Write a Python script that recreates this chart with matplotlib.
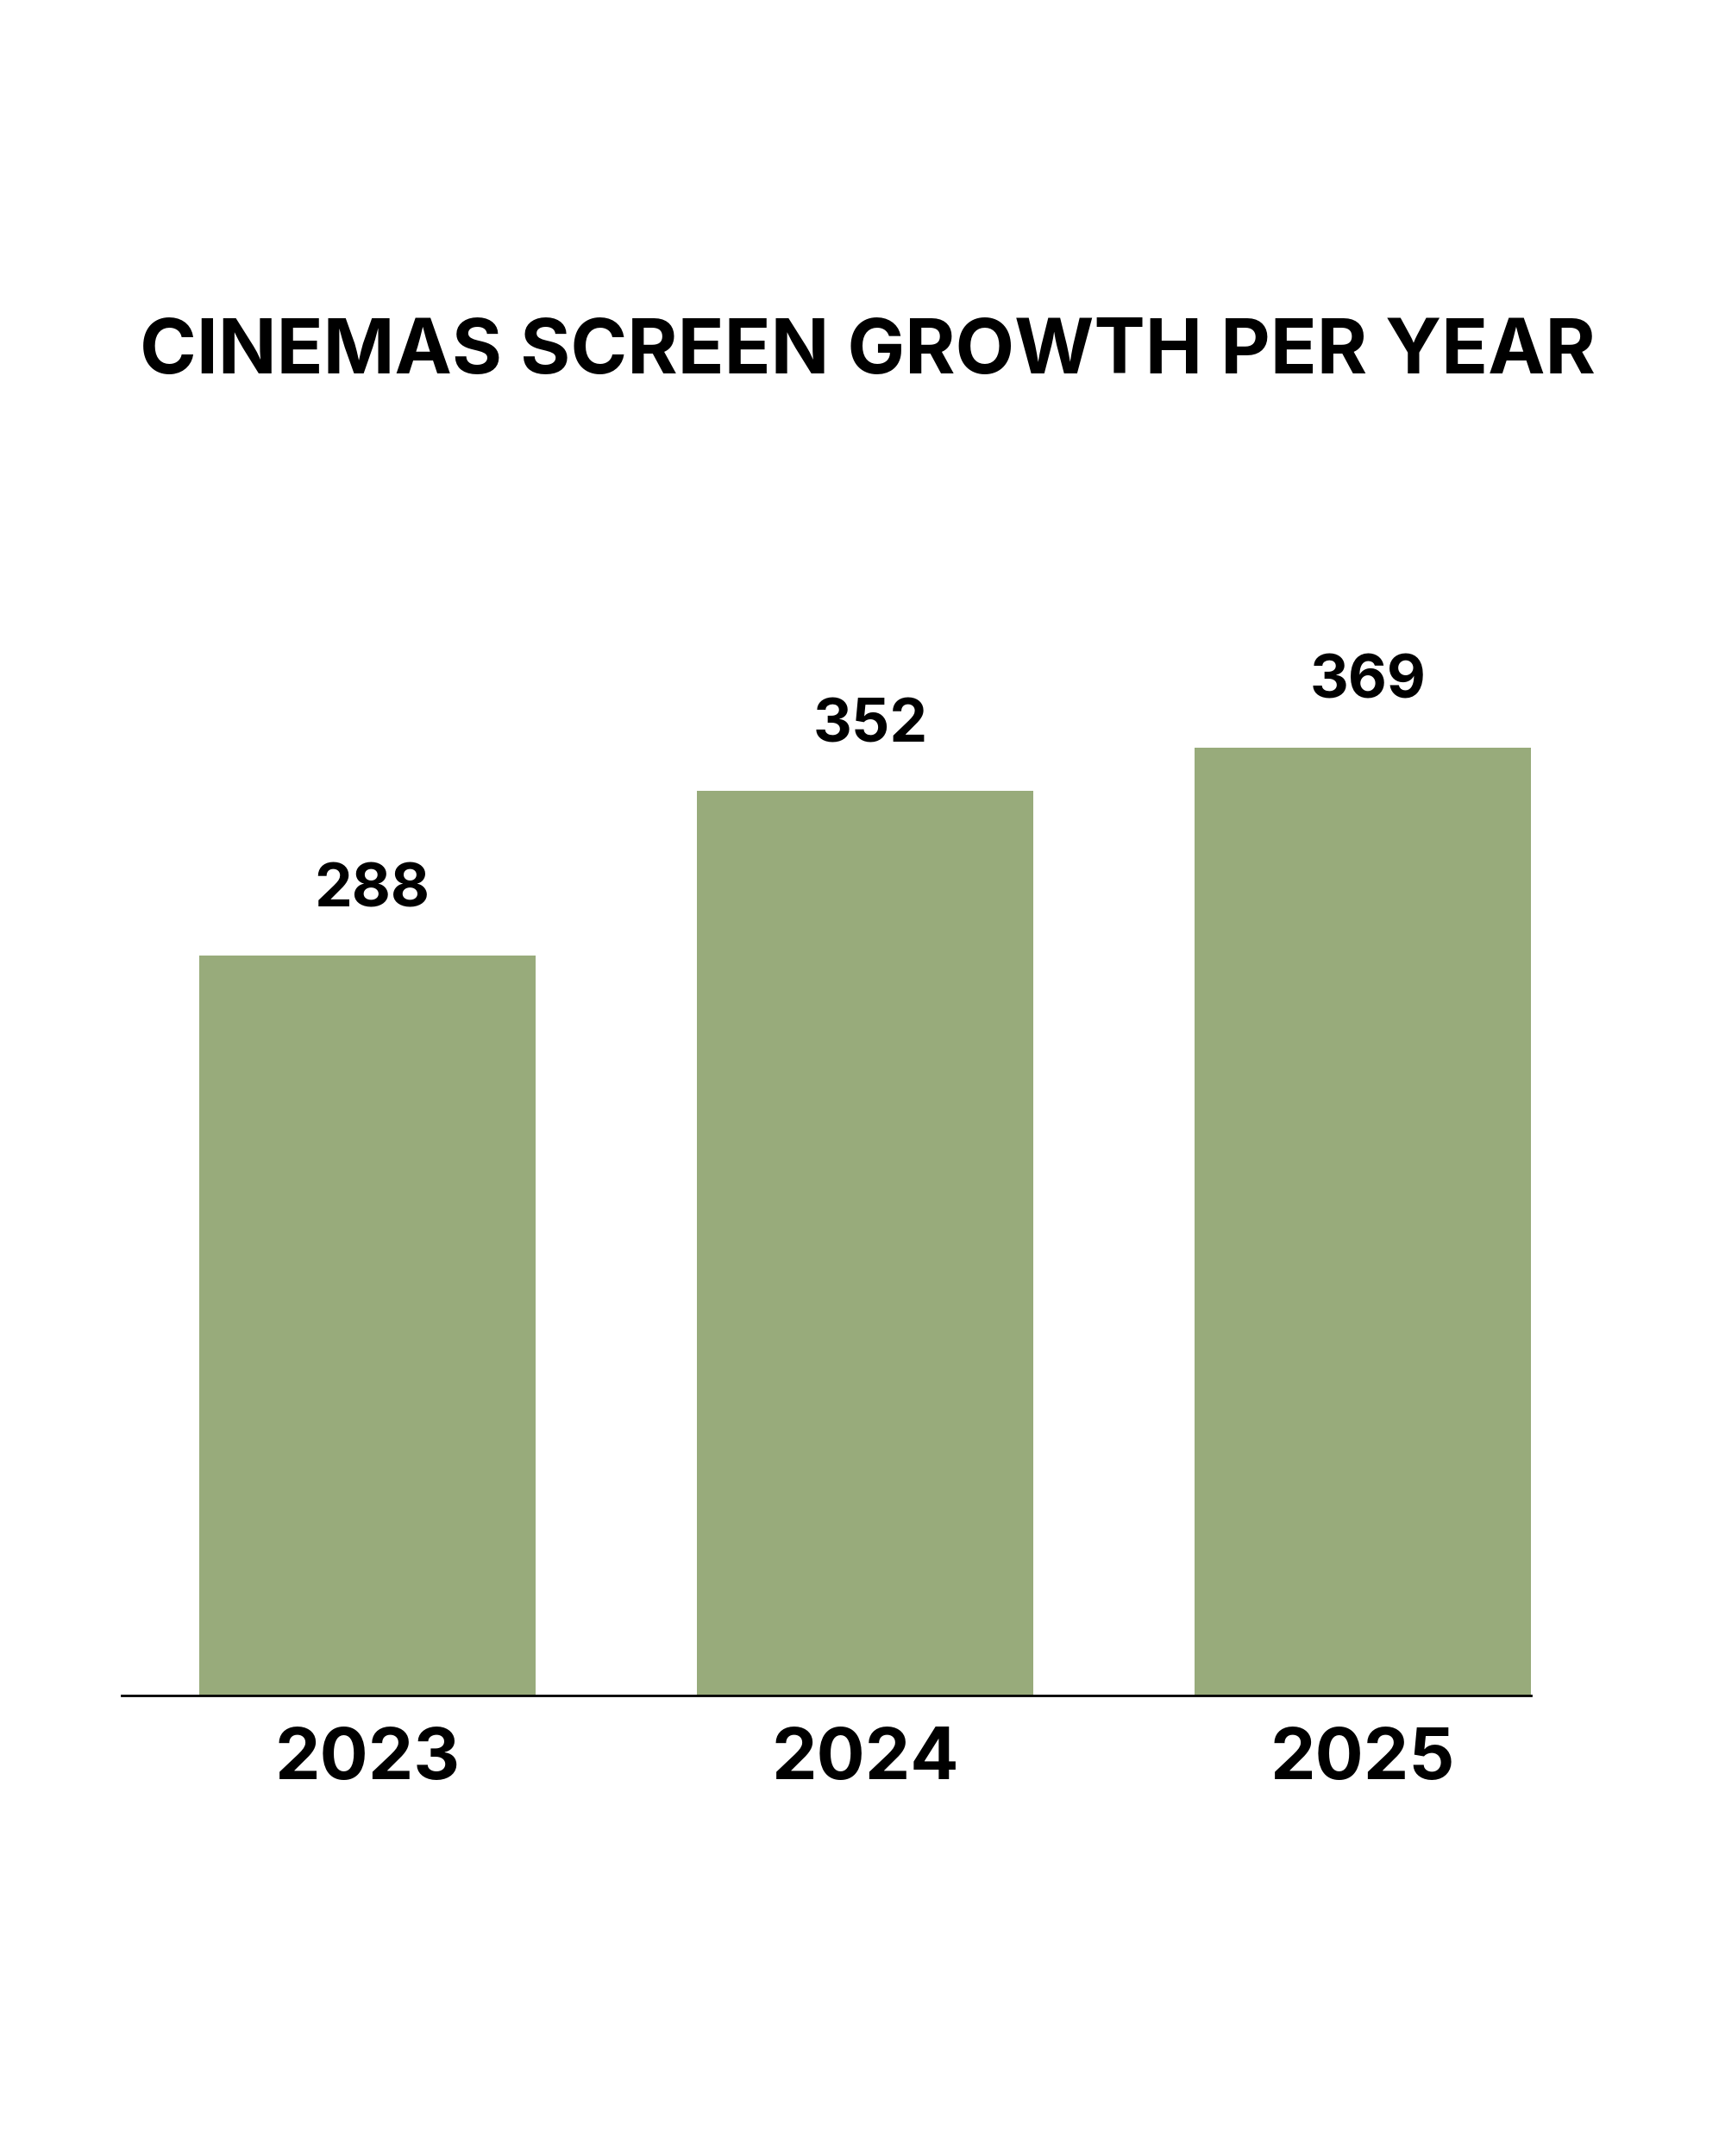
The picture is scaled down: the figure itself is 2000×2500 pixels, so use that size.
import matplotlib.pyplot as plt

years = ['2023', '2024', '2025']
screens = [288, 352, 369]

plt.rcParams['font.family'] = ['Inter', 'DejaVu Sans']

fig = plt.figure(figsize=(20, 25), dpi=100)
fig.patch.set_facecolor('white')

# axes placed in figure fractions, matching the reference layout
ax = fig.add_axes([141 / 2000, 1 - 1966 / 2500, (1775 - 141) / 2000, 1266 / 2500])

x = range(len(years))
bars = ax.bar(x, screens, width=0.675, color='#98ab7b', zorder=2)

for rect, val in zip(bars, screens):
    ax.annotate(f'{val}', (rect.get_x() + rect.get_width() / 2, rect.get_height()),
                xytext=(4, 31), textcoords='offset points',
                ha='center', va='bottom', fontsize=50, fontweight='bold', color='black')

ax.set_xlim(-0.494, 2 + 0.3375)
ax.set_ylim(0, 425)

ax.set_xticks(list(x))
ax.set_xticklabels(years, fontsize=60, fontweight='bold')
ax.tick_params(axis='x', length=0, pad=26)
ax.set_yticks([])

for side in ['top', 'right', 'left']:
    ax.spines[side].set_visible(False)
ax.spines['bottom'].set_linewidth(2)
ax.spines['bottom'].set_color('black')

fig.text(0.503, 1 - 410 / 2500, 'CINEMAS SCREEN GROWTH PER YEAR',
         ha='center', va='center', fontsize=64, fontweight='bold', color='black')

fig.savefig('out.png', dpi=100, facecolor='white')
